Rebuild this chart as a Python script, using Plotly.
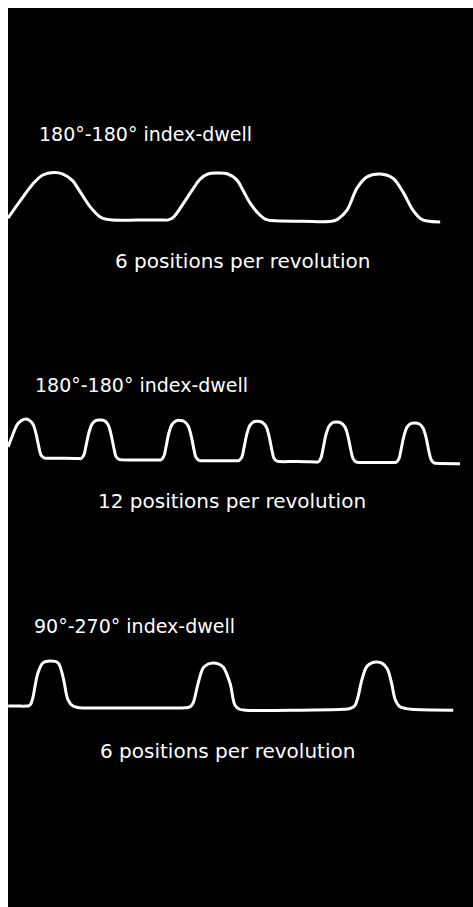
import plotly.graph_objects as go

# ---------------- text ----------------
panel_titles = ["180°-180° index-dwell", "180°-180° index-dwell", "90°-270° index-dwell"]
panel_notes = ["6 positions per revolution", "12 positions per revolution", "6 positions per revolution"]

# ---------------- data (input angle in degrees, relative motion 0..1) ----------------
# Panel 1: 180°-180° index-dwell, 6 positions
angle_1 = [-10, 17, 45, 67, 90, 111, 131, 149, 171, 193, 206, 220, 275, 330, 343,
           355, 375, 397, 413, 430, 450, 474, 494, 508, 523, 540, 556, 570, 640, 702,
           716, 736, 758, 780, 809, 837, 859, 881, 898, 912, 941]
motion_1 = [0.06, 0.43, 0.79, 0.98, 1.03, 1.00, 0.87, 0.62, 0.30, 0.085, 0.04, 0.02, 0.02, 0.02, 0.025,
            0.09, 0.36, 0.68, 0.89, 1.00, 1.02, 1.00, 0.87, 0.64, 0.38, 0.17, 0.04, 0.01, -0.005, -0.005,
            0.04, 0.23, 0.70, 0.94, 1.00, 0.91, 0.62, 0.23, 0.05, 0.00, -0.02]

# Panel 2: 180°-180° index-dwell, 12 positions
angle_2 = [12, 30, 53, 72, 90, 108, 127, 141, 155, 164, 178, 190, 263, 336,
           348, 362, 371, 385, 399, 418, 436, 454, 473, 487, 501, 510, 524, 536, 620, 705,
           717, 731, 740, 754, 768, 787, 805, 823, 842, 856, 870, 879, 893, 905, 985, 1065,
           1077, 1091, 1100, 1114, 1128, 1147, 1165, 1183, 1202, 1216, 1230, 1239, 1253, 1265, 1348, 1430,
           1442, 1456, 1465, 1479, 1493, 1512, 1530, 1548, 1567, 1581, 1595, 1604, 1618, 1630, 1710, 1790,
           1802, 1816, 1825, 1839, 1853, 1872, 1890, 1908, 1927, 1941, 1955, 1964, 1978, 1990, 2098]
motion_2 = [0.36, 0.60, 0.88, 0.98, 1.02, 1.00, 0.90, 0.67, 0.33, 0.16, 0.10, 0.09, 0.09, 0.085,
            0.08, 0.17, 0.37, 0.70, 0.90, 0.99, 1.00, 0.99, 0.89, 0.66, 0.31, 0.13, 0.06, 0.05, 0.05, 0.05,
            0.05, 0.14, 0.34, 0.69, 0.89, 0.98, 0.99, 0.97, 0.87, 0.64, 0.29, 0.11, 0.04, 0.03, 0.03, 0.03,
            0.03, 0.12, 0.32, 0.67, 0.87, 0.96, 0.97, 0.95, 0.85, 0.62, 0.27, 0.09, 0.02, 0.01, 0.01, 0.00,
            0.00, 0.10, 0.30, 0.65, 0.85, 0.94, 0.95, 0.93, 0.83, 0.60, 0.25, 0.08, 0.00, -0.01, -0.01, -0.01,
            -0.01, 0.08, 0.28, 0.62, 0.83, 0.92, 0.93, 0.91, 0.81, 0.58, 0.23, 0.06, -0.02, -0.03, -0.04]

# Panel 3: 90°-270° index-dwell, 6 positions
angle_3 = [-47, -20, -8, -1, 3.4, 7.6, 18.6, 29.6, 45, 62.6, 73.6, 84.6, 95.6, 106, 118, 221, 337, 349,
           355, 360, 371, 382, 392, 404, 415, 426, 441, 452, 462, 475, 595, 690, 703,
           715, 722, 731, 742, 753, 764, 776, 787, 796, 805, 814, 826, 840, 932]
motion_3 = [0.02, 0.02, 0.02, 0.03, 0.08, 0.22, 0.76, 0.98, 1.02, 0.98, 0.67, 0.16, 0.02, -0.01, -0.02, -0.02, -0.02, -0.01,
            0.02, 0.09, 0.53, 0.87, 0.95, 0.98, 0.96, 0.89, 0.53, 0.04, -0.05, -0.07, -0.07, -0.05, -0.04,
            0.02, 0.20, 0.60, 0.90, 0.98, 1.00, 0.97, 0.85, 0.55, 0.15, 0.01, -0.03, -0.05, -0.07]

angles = [angle_1, angle_2, angle_3]
motions = [motion_1, motion_2, motion_3]

# ---------------- layout of the three panels ----------------
x_ranges = [[-9.8, 1013.2], [11.5, 2157.5], [-47.4, 975.6]]
y_domains = [[0.6752, 0.8865], [0.386, 0.6085], [0.119, 0.3415]]
y_ranges = [[-1.681, 2.362], [-2.333, 2.4286], [-2.067, 2.378]]

title_pos = [(0.0624, 0.8593), (0.0538, 0.5812), (0.0516, 0.3131)]
note_pos = [(0.5043, 0.7186), (0.4817, 0.4516), (0.472, 0.173)]

fig = go.Figure()
for i in range(3):
    suffix = "" if i == 0 else str(i + 1)
    fig.add_trace(go.Scatter(
        x=angles[i], y=motions[i], mode="lines",
        line=dict(color="white", width=3, shape="spline", smoothing=1.0),
        xaxis="x" + suffix, yaxis="y" + suffix,
        hoverinfo="skip", showlegend=False,
    ))
    ax = dict(visible=False, showgrid=False, zeroline=False, fixedrange=True)
    fig.layout["xaxis" + suffix] = dict(ax, range=x_ranges[i], domain=[0, 1],
                                        anchor="y" + suffix)
    fig.layout["yaxis" + suffix] = dict(ax, range=y_ranges[i], domain=y_domains[i],
                                        anchor="x" + suffix)

annotations = []
for i in range(3):
    annotations.append(dict(
        text=panel_titles[i], x=title_pos[i][0], y=title_pos[i][1],
        xref="paper", yref="paper", xanchor="left", yanchor="middle",
        showarrow=False, font=dict(family="DejaVu Sans", size=19, color="white"),
    ))
    annotations.append(dict(
        text=panel_notes[i], x=note_pos[i][0], y=note_pos[i][1],
        xref="paper", yref="paper", xanchor="center", yanchor="middle",
        showarrow=False, font=dict(family="DejaVu Sans", size=20, color="white"),
    ))

fig.update_layout(
    width=473, height=907,
    margin=dict(l=8, r=0, t=8, b=0),
    paper_bgcolor="white", plot_bgcolor="black",
    annotations=annotations,
    shapes=[dict(type="rect", xref="paper", yref="paper", x0=0, x1=1, y0=0, y1=1,
                 fillcolor="black", line=dict(width=0), layer="below")],
    showlegend=False,
)

fig.write_html("out.html", config={"displayModeBar": False, "staticPlot": True},
               post_script="document.body.style.margin='0';")
